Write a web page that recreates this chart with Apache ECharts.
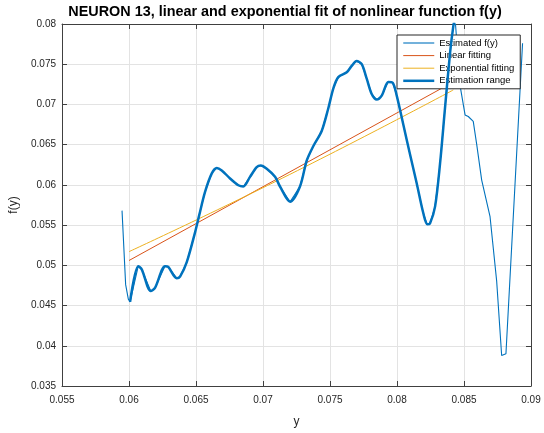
<!DOCTYPE html>
<html>
<head>
<meta charset="utf-8">
<script src="https://cdn.jsdelivr.net/npm/echarts@6/dist/echarts.min.js"></script>
<style>
  html, body { margin: 0; padding: 0; background: #fff; }
  #chart { width: 544px; height: 433px; }
</style>
</head>
<body>
<div id="chart"></div>
<script>
// Estimated f(y): thin lead-in before the estimation range
const estHead = [
  [0.05948, 0.0568], [0.05975, 0.0476], [0.05995, 0.0458]
];

// Estimation range: [y, f(y)]
const rangeCurve = [
  [0.06008, 0.04545], [0.06069, 0.0499], [0.06095, 0.0495], [0.06162, 0.0468],
  [0.06194, 0.0472], [0.06269, 0.0499], [0.06293, 0.0498], [0.06356, 0.0484],
  [0.06381, 0.0486], [0.06431, 0.0504], [0.06493, 0.0541], [0.06525, 0.0563],
  [0.06567, 0.0591], [0.06617, 0.0614], [0.06655, 0.0621], [0.06692, 0.0618],
  [0.06754, 0.0608], [0.06816, 0.05996], [0.06853, 0.0598], [0.06903, 0.0610],
  [0.06953, 0.0622], [0.06983, 0.0624], [0.07028, 0.0620], [0.07090, 0.0610],
  [0.07127, 0.0598], [0.07202, 0.0579], [0.07276, 0.0598], [0.07326, 0.0630],
  [0.07375, 0.0648], [0.07438, 0.0667], [0.07487, 0.0695], [0.07525, 0.0720],
  [0.07562, 0.0734], [0.07625, 0.0740], [0.07662, 0.0748], [0.07698, 0.0754],
  [0.07737, 0.0750], [0.07774, 0.0732], [0.07811, 0.0713], [0.07849, 0.0706],
  [0.07886, 0.0711], [0.07935, 0.0728], [0.07968, 0.0727], [0.07998, 0.0711],
  [0.08047, 0.0675], [0.08097, 0.0638], [0.08147, 0.0602], [0.08196, 0.0565],
  [0.08226, 0.0551], [0.08246, 0.0552], [0.08284, 0.0573], [0.08321, 0.0626],
  [0.08358, 0.0695], [0.08396, 0.0764], [0.08420, 0.0797], [0.08433, 0.0808]
];

// Estimated f(y): thin tail after the estimation range
const estTail = [
  [0.08470, 0.0724], [0.08508, 0.0687], [0.08532, 0.0685], [0.08569, 0.0679],
  [0.08595, 0.0650], [0.08632, 0.0606], [0.08694, 0.0561], [0.08744, 0.0480],
  [0.08781, 0.0388], [0.08813, 0.0390], [0.08937, 0.0776]
];

// Fitted lines over the estimation range
const linearFit = [[0.0600, 0.0506], [0.0842, 0.0728]];
const expFit = [[0.0600, 0.0517], [0.0720, 0.0613], [0.0842, 0.0718]];

// Axis settings
const xTicks = { min: 0.055, max: 0.09, step: 0.005 };
const yTicks = { min: 0.035, max: 0.08, step: 0.005 };

const seriesNames = ['Estimated f(y)', 'Linear fitting', 'Exponential fitting', 'Estimation range'];

const BLUE = '#0072BD', RED = '#D95319', YELLOW = '#EDB120';
const AXIS = '#404040', TEXT = '#262626', GRID = '#e3e3e3';
const FONT = '"Liberation Sans", Arial, Helvetica, sans-serif';

const fmt = v => String(+v.toFixed(4));

const chart = echarts.init(document.getElementById('chart'), null, { renderer: 'canvas' });

const baseX = {
  type: 'value', min: xTicks.min, max: xTicks.max, interval: xTicks.step,
  axisLine: { show: true, onZero: false, lineStyle: { color: AXIS, width: 1 } },
  axisTick: { show: true, inside: true, length: 5, lineStyle: { color: AXIS } }
};
const baseY = {
  type: 'value', min: yTicks.min, max: yTicks.max, interval: yTicks.step,
  axisLine: { show: true, onZero: false, lineStyle: { color: AXIS, width: 1 } },
  axisTick: { show: true, inside: true, length: 5, lineStyle: { color: AXIS } }
};

chart.setOption({
  animation: false,
  backgroundColor: '#fff',
  title: {
    text: 'NEURON 13, linear and exponential fit of nonlinear function f(y)',
    left: 285, top: 5, padding: 0, textAlign: 'center',
    textStyle: { fontFamily: FONT, fontSize: 14.4, fontWeight: 'bold', color: '#000' }
  },
  grid: { left: 62, right: 13, top: 24, bottom: 40, containLabel: false },
  legend: {
    orient: 'vertical', left: 397, top: 35,
    data: seriesNames,
    itemWidth: 31, itemHeight: 10, itemGap: 2.6,
    padding: [3, 6, 3, 5],
    backgroundColor: '#fff', borderColor: '#262626', borderWidth: 1, borderRadius: 0,
    itemStyle: { opacity: 0 },
    lineStyle: { width: 'inherit' },
    textStyle: { fontFamily: FONT, fontSize: 9.5, color: '#000' },
    selectedMode: false
  },
  xAxis: [
    Object.assign({}, baseX, {
      position: 'bottom',
      name: 'y', nameLocation: 'middle', nameGap: 30,
      nameTextStyle: { fontFamily: FONT, fontSize: 12, color: TEXT },
      axisLabel: { show: true, margin: 9, fontFamily: FONT, fontSize: 10, color: TEXT, formatter: fmt },
      splitLine: { show: true, lineStyle: { color: GRID, width: 1 } }
    }),
    Object.assign({}, baseX, {
      position: 'top', axisLabel: { show: false }, splitLine: { show: false }
    })
  ],
  yAxis: [
    Object.assign({}, baseY, {
      position: 'left',
      name: 'f(y)', nameLocation: 'middle', nameGap: 41, nameRotate: 90,
      nameTextStyle: { fontFamily: FONT, fontSize: 12, color: TEXT },
      axisLabel: { show: true, margin: 6, fontFamily: FONT, fontSize: 10, color: TEXT, formatter: fmt },
      splitLine: { show: true, lineStyle: { color: GRID, width: 1 } }
    }),
    Object.assign({}, baseY, {
      position: 'right', axisLabel: { show: false }, splitLine: { show: false }
    })
  ],
  series: [
    {
      name: seriesNames[0], type: 'line', xAxisIndex: 0, yAxisIndex: 0,
      data: estHead.concat(rangeCurve, estTail),
      symbol: 'none', smooth: false, clip: true,
      lineStyle: { color: BLUE, width: 1.1 }, itemStyle: { color: BLUE }, z: 2
    },
    {
      name: seriesNames[1], type: 'line', data: linearFit,
      symbol: 'none', clip: true,
      lineStyle: { color: RED, width: 1 }, itemStyle: { color: RED }, z: 3
    },
    {
      name: seriesNames[2], type: 'line', data: expFit,
      symbol: 'none', smooth: true, clip: true,
      lineStyle: { color: YELLOW, width: 1 }, itemStyle: { color: YELLOW }, z: 3
    },
    {
      name: seriesNames[3], type: 'line', data: rangeCurve,
      symbol: 'none', smooth: 0.3, clip: true,
      lineStyle: { color: BLUE, width: 2.5 }, itemStyle: { color: BLUE }, z: 4
    }
  ]
});
</script>
</body>
</html>
